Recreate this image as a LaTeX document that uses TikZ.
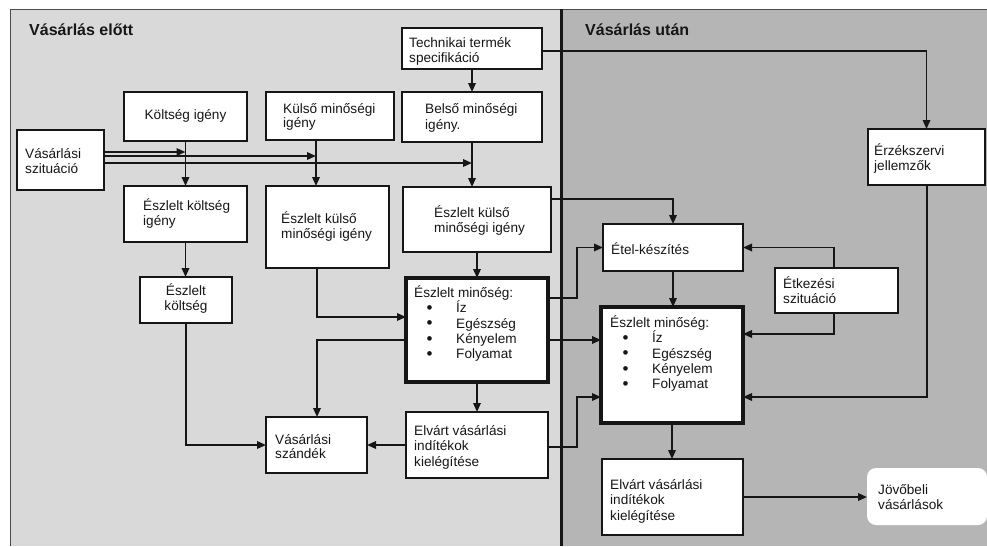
\documentclass[tikz,border=0pt]{standalone}
\usepackage{fontspec}
\setmainfont{Liberation Sans}
\usetikzlibrary{arrows.meta,fit}

\definecolor{panelA}{RGB}{217,217,217}
\definecolor{panelB}{RGB}{181,181,181}
\definecolor{ink}{RGB}{22,22,22}

% fixed height for the first line of every label, so labels sit on known baselines
\newcommand\fl{\rule{0pt}{13pt}}
% one bullet line of a list
\newcommand\bul{\hspace*{12.5pt}\makebox[29.5pt][l]{\raisebox{-0.8pt}{\fontsize{17}{15}\selectfont\textbullet}}}

\tikzset{
  box/.style={draw=ink, line width=1.7pt, fill=white, inner sep=0pt, outer sep=0pt},
  hbox/.style={box, line width=3.5pt},
  soft/.style={fill=white, rounded corners=9pt, inner sep=0pt, outer sep=0pt},
  txt/.style={anchor=north west, inner sep=0pt, align=left, text=ink,
              font=\fontsize{13.6}{15.4}\selectfont},
  txttight/.style={txt, font=\fontsize{13.6}{14}\selectfont},
  one/.style={anchor=base west, inner sep=0pt, text=ink, font=\fontsize{13.6}{15.4}\selectfont},
  title/.style={anchor=base west, inner sep=0pt, text=ink, font=\fontsize{16}{19}\selectfont\bfseries},
  link/.style={draw=ink, line width=1.7pt, -{Triangle[length=9pt,width=7.5pt]}},
}

\begin{document}
\begin{tikzpicture}[x=1pt,y=-1pt]
\useasboundingbox (0,0) rectangle (987,546);

% the two phases
\fill[panelA] (10,9) rectangle (561.5,546);
\fill[panelB] (561.5,9) rectangle (987,546);
\draw[line width=1pt, draw=black!70] (10,546) -- (10,9) -- (987,9);
\draw[line width=2.2pt, draw=ink] (561.5,9) -- (561.5,546);

\node[title] (ttl-before) at (29,35) {Vásárlás előtt};
\node[title] (ttl-after) at (585,35) {Vásárlás után};

% boxes
\node[box, fit={(402,28) (542,69)}] (tech) {};
\node[box, fit={(124,92) (247,141)}] (ki) {};
\node[box, fit={(266,92) (394,140)}] (ku) {};
\node[box, fit={(402,92) (542,142)}] (belso) {};
\node[box, fit={(17,130) (104,190)}] (sz) {};
\node[box, fit={(124,186) (247,242)}] (eki) {};
\node[box, fit={(266,186) (389,268)}] (ekl) {};
\node[box, fit={(403,187) (551,252)}] (ekr) {};
\node[box, fit={(140,277) (232,323)}] (ek) {};
\node[hbox, fit={(406,278) (548,382)}] (em1) {};
\node[box, fit={(406,412) (548,478)}] (elv1) {};
\node[box, fit={(266,417) (367,473)}] (vsz) {};
\node[box, fit={(603,224) (743,271)}] (etel) {};
\node[box, fit={(775,268) (898,313)}] (etk) {};
\node[hbox, fit={(601,307) (743,423)}] (em2) {};
\node[box, fit={(868,129) (985,185)}] (erz) {};
\node[box, fit={(602,459) (743,535)}] (elv2) {};
\node[soft, fit={(867,468) (987,525)}] (jov) {};

% labels
\node[txt] (l-tech) at (409,34) {\fl Technikai termék\\specifikáció};
\node[one, anchor=base] (l-ki) at (185.5,119) {Költség igény};
\node[txttight] (l-ku) at (283,100) {\fl Külső minőségi\\igény};
\node[txt] (l-belso) at (425,100.5) {\fl Belső minőségi\\igény.};
\node[txt] (l-sz) at (25,145) {\fl Vásárlási\\szituáció};
\node[txt] (l-eki) at (143,197) {\fl Észlelt költség\\igény};
\node[txt, align=center, anchor=north] (l-ek) at (186,282) {\fl Észlelt\\költség};
\node[txt] (l-ekl) at (281,210) {\fl Észlelt külső\\minőségi igény};
\node[txt] (l-ekr) at (434,204) {\fl Észlelt külső\\minőségi igény};
\node[txt] (l-em1) at (414,284) {\fl Észlelt minőség:\\\bul Íz\\\bul Egészség\\\bul Kényelem\\\bul Folyamat};
\node[txt] (l-elv1) at (414,422) {\fl Elvárt vásárlási\\indítékok\\kielégítése};
\node[txttight] (l-vsz) at (275,431.5) {\fl Vásárlási\\szándék};
\node[one] (l-etel) at (611,254) {Étel-készítés};
\node[txt] (l-etk) at (783,275) {\fl Étkezési\\szituáció};
\node[txt] (l-em2) at (610,314) {\fl Észlelt minőség:\\\bul Íz\\\bul Egészség\\\bul Kényelem\\\bul Folyamat};
\node[txt] (l-erz) at (874,142) {\fl Érzékszervi\\jellemzők};
\node[txt] (l-elv2) at (610,476) {\fl Elvárt vásárlási\\indítékok\\kielégítése};
\node[txt] (l-jov) at (878,481) {\fl Jövőbeli\\vásárlások};

% connectors, before purchase
\draw[link] (tech.south) -- (tech.south |- belso.north);
\draw[link] (tech.east |- 0,51) -| (erz.north);
\draw[link] (ki.south) -- (ki.south |- eki.north);
\draw[link] (ku.south -| 316,0) -- (316,0 |- ekl.north);
\draw[link] (belso.south) -- (belso.south |- ekr.north);
\draw[link] (sz.east |- 0,152) -- (ki.south |- 0,152);
\draw[link] (sz.east |- 0,156) -- (316,156);
\draw[link] (sz.east |- 0,163) -- (belso.south |- 0,163);
\draw[link] (eki.south) -- (eki.south |- ek.north);
\draw[link] (ek.south) |- (vsz.west);
\draw[link] (ekl.south -| 317,0) |- (em1.west |- 0,317);
\draw[link] (em1.west |- 0,340) -| (317,0 |- vsz.north);
\draw[link] (ekr.south) -- (ekr.south |- em1.north);
\draw[link] (em1.south) -- (em1.south |- elv1.north);
\draw[link] (elv1.west) -- (elv1.west -| vsz.east);

% connectors, across and after purchase
\draw[link] (ekr.east |- 0,199) -| (etel.north);
\draw[link] (em1.east |- 0,298) -- (577,298) |- (etel.west);
\draw[link] (em1.east |- 0,340) -- (em2.west |- 0,340);
\draw[link] (elv1.east |- 0,447) -- (577,447) |- (em2.west |- 0,397);
\draw[link] (etel.south) -- (etel.south |- em2.north);
\draw[link] (etk.north -| 834,0) |- (etel.east);
\draw[link] (etk.south -| 834,0) |- (em2.east |- 0,334);
\draw[link] (erz.south -| 927,0) |- (em2.east |- 0,397);
\draw[link] (em2.south) -- (em2.south |- elv2.north);
\draw[link] (elv2.east) -- (elv2.east -| jov.west);
\end{tikzpicture}
\end{document}
